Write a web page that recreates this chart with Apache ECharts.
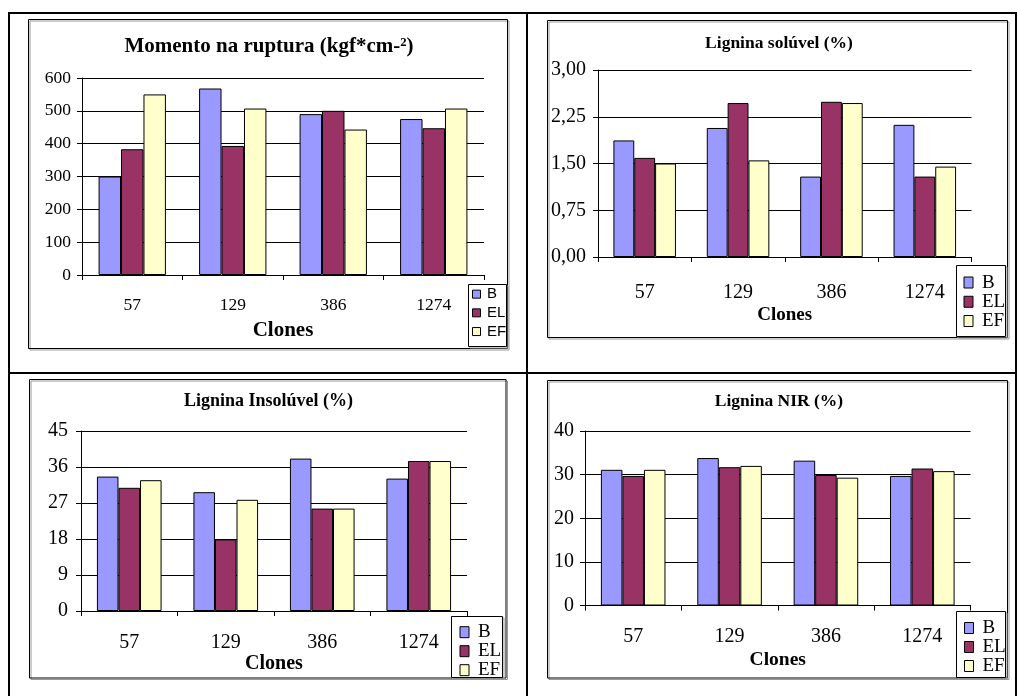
<!DOCTYPE html>
<html>
<head>
<meta charset="utf-8">
<script src="https://cdn.jsdelivr.net/npm/echarts@6/dist/echarts.min.js"></script>
<style>
html,body{margin:0;padding:0;background:#fff;}
#chart{width:1018px;height:696px;}
</style>
</head>
<body>
<div id="chart"></div>
<script>
// ---- data ----
const categories = ['57', '129', '386', '1274'];
const seriesNames = ['B', 'EL', 'EF'];
const chartTitles = ['Momento na ruptura (kgf*cm-²)', 'Lignina solúvel (%)', 'Lignina Insolúvel (%)', 'Lignina NIR (%)'];
const axisTitle = 'Clones';

const momentoB  = [300, 568, 490, 475];
const momentoEL = [383, 393, 500, 447];
const momentoEF = [550, 507, 443, 507];

const solB  = [1.87, 2.07, 1.29, 2.12];
const solEL = [1.59, 2.47, 2.49, 1.29];
const solEF = [1.50, 1.55, 2.47, 1.45];

const insB  = [33.6, 29.7, 38.1, 33.1];
const insEL = [30.8, 17.9, 25.6, 37.5];
const insEF = [32.7, 27.8, 25.6, 37.5];

const nirB  = [31.1, 33.8, 33.2, 29.7];
const nirEL = [29.7, 31.7, 29.9, 31.4];
const nirEF = [31.1, 32.0, 29.3, 30.8];

const yMins = [0, 0, 0, 0];
const yMaxs = [600, 3, 45, 40];
const yIntervals = [100, 0.75, 9, 10];

// ---- styling / layout ----
const colors = ['#9999FF', '#993366', '#FFFFCC'];
const SERIF = '"Liberation Serif", "Times New Roman", serif';
const SANS = '"Liberation Sans", Arial, sans-serif';

const panels = [
  { grid:{left:82, top:78, width:402, height:197},
    frame:[28.5,19.5,479,329], title:{x:269,y:46.5,size:21},
    yLabel:{size:17.5, margin:11}, xLabel:{size:17.5, margin:21}, name:{size:21, gap:45},
    legendBox:[468.5,284.5,38,62], legend:{left:472, top:284.8, iw:8, ih:8, font:SANS, size:15, lh:18.7, pad:1.5},
    fmt:v=>String(v) },
  { grid:{left:598, top:70, width:373.5, height:187},
    frame:[547.5,20.5,460,317], title:{x:779,y:43.5,size:17.5},
    yLabel:{size:20, margin:12}, xLabel:{size:20, margin:26}, name:{size:19, gap:49},
    legendBox:[956.5,265.5,49,71], legend:{left:963.5, top:272.9, iw:9, ih:11, font:SERIF, size:19, lh:19.25, pad:4},
    fmt:v=>v.toFixed(2).replace('.', ',') },
  { grid:{left:81, top:431, width:386, height:180},
    frame:[29.5,379.5,476.5,298.5], title:{x:268.5,y:401.5,size:18},
    yLabel:{size:20, margin:13}, xLabel:{size:20, margin:22}, name:{size:20, gap:40},
    legendBox:[451.5,616.5,51,61], legend:{left:459.5, top:622.7, iw:9, ih:11, font:SERIF, size:19, lh:18, pad:4},
    fmt:v=>String(v) },
  { grid:{left:585, top:431, width:385.5, height:174.5},
    frame:[547.5,380.5,460,297.5], title:{x:779,y:401.5,size:17.5},
    yLabel:{size:20, margin:11}, xLabel:{size:20, margin:21}, name:{size:19.5, gap:44},
    legendBox:[956.5,611.5,49,66], legend:{left:964, top:618.5, iw:9, ih:11, font:SERIF, size:19, lh:18, pad:4},
    fmt:v=>String(v) }
];

const dataSets = [
  [momentoB, momentoEL, momentoEF],
  [solB, solEL, solEF],
  [insB, insEL, insEF],
  [nirB, nirEL, nirEF]
];

const grids = [], xAxes = [], yAxes = [], series = [], legends = [], graphics = [];

// table borders
graphics.push(
  {type:'line', shape:{x1:9, y1:13, x2:1016, y2:13}, style:{stroke:'#000', lineWidth:2}, z:10},
  {type:'line', shape:{x1:9, y1:12, x2:9, y2:700}, style:{stroke:'#000', lineWidth:2}, z:10},
  {type:'line', shape:{x1:1016, y1:12, x2:1016, y2:700}, style:{stroke:'#000', lineWidth:2}, z:10},
  {type:'line', shape:{x1:527, y1:12, x2:527, y2:700}, style:{stroke:'#000', lineWidth:2}, z:10},
  {type:'line', shape:{x1:8, y1:373, x2:1017, y2:373}, style:{stroke:'#000', lineWidth:2}, z:10}
);

panels.forEach((p, i) => {
  grids.push(Object.assign({containLabel:false}, p.grid));
  xAxes.push({
    gridIndex:i, type:'category', data:categories,
    axisLine:{show:true, lineStyle:{color:'#000', width:1}},
    axisTick:{show:true, length:5, lineStyle:{color:'#000', width:1}},
    axisLabel:{fontFamily:SERIF, fontSize:p.xLabel.size, color:'#000', margin:p.xLabel.margin},
    splitLine:{show:false},
    name:axisTitle, nameLocation:'middle', nameGap:p.name.gap,
    nameTextStyle:{fontFamily:SERIF, fontWeight:'bold', fontSize:p.name.size, color:'#000'}
  });
  yAxes.push({
    gridIndex:i, type:'value', min:yMins[i], max:yMaxs[i], interval:yIntervals[i],
    axisLine:{show:true, lineStyle:{color:'#000', width:1}},
    axisTick:{show:true, length:5, lineStyle:{color:'#000', width:1}},
    axisLabel:{fontFamily:SERIF, fontSize:p.yLabel.size, color:'#000', margin:p.yLabel.margin, formatter:p.fmt},
    splitLine:{show:true, lineStyle:{color:'#000', width:1}}
  });
  dataSets[i].forEach((arr, k) => {
    series.push({
      type:'bar', name:seriesNames[k], xAxisIndex:i, yAxisIndex:i, data:arr,
      barGap:'0%', barCategoryGap:'33%',
      itemStyle:{color:colors[k], borderColor:'#000', borderWidth:1},
      emphasis:{disabled:true}, animation:false
    });
  });
  const L = p.legend;
  legends.push({
    data:seriesNames, orient:'vertical', left:L.left, top:L.top, padding:0,
    itemWidth:L.iw, itemHeight:L.ih, itemGap:0, icon:'rect',
    itemStyle:{borderColor:'#000', borderWidth:1},
    textStyle:{fontFamily:L.font, fontSize:L.size, color:'#000', lineHeight:L.lh, padding:[0,0,0,L.pad]},
    selectedMode:false
  });
  const f = p.frame;
  graphics.push(
    {type:'rect', shape:{x:f[0]+1.5, y:f[1]+1.5, width:f[2], height:f[3]}, style:{fill:'none', stroke:'#999', lineWidth:1}, z:0},
    {type:'rect', shape:{x:f[0], y:f[1], width:f[2], height:f[3]}, style:{fill:'none', stroke:'#000', lineWidth:1}, z:1}
  );
  const b = p.legendBox;
  graphics.push(
    {type:'rect', shape:{x:b[0]+1.5, y:b[1]+1.5, width:b[2], height:b[3]}, style:{fill:'none', stroke:'#999', lineWidth:1}, z:3},
    {type:'rect', shape:{x:b[0], y:b[1], width:b[2], height:b[3]}, style:{fill:'#fff', stroke:'#000', lineWidth:1}, z:3}
  );
  graphics.push({
    type:'text', x:p.title.x, y:p.title.y, z:5,
    style:{text:chartTitles[i], font:'bold ' + p.title.size + 'px ' + SERIF, fill:'#000',
           align:'center', verticalAlign:'middle', textAlign:'center', textVerticalAlign:'middle'}
  });
});

const chart = echarts.init(document.getElementById('chart'), null, {renderer:'canvas'});
chart.setOption({
  animation:false,
  backgroundColor:'#fff',
  grid:grids, xAxis:xAxes, yAxis:yAxes, series:series, legend:legends,
  graphic:{elements:graphics}
});
</script>
</body>
</html>
